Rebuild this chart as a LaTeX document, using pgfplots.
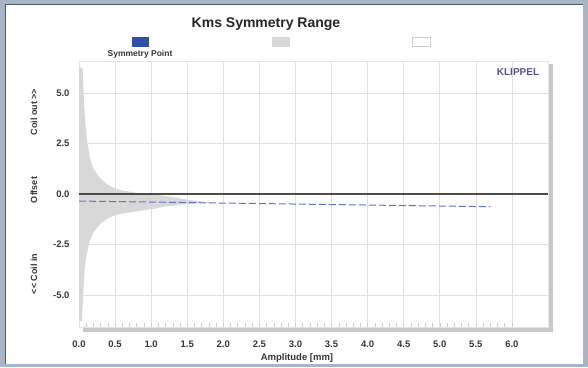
\documentclass[border=0pt]{standalone}
\usepackage{pgfplots}
\pgfplotsset{compat=1.18}
\usepackage{fontspec}
\setmainfont{Liberation Sans}
\definecolor{framebg}{RGB}{168,181,196}
\definecolor{framedark}{RGB}{80,88,98}
\definecolor{gridc}{RGB}{228,222,222}
\definecolor{fillg}{RGB}{216,216,216}
\definecolor{shadowg}{RGB}{200,200,200}
\definecolor{symblue}{RGB}{50,80,170}
\definecolor{dashblue}{RGB}{95,115,205}
\definecolor{klip}{RGB}{85,85,140}
\definecolor{labc}{RGB}{55,55,55}
\begin{document}
\begin{tikzpicture}[x=1pt,y=1pt]
% frame
\fill[framebg] (0,0) rectangle (588,367);
\fill[white] (6,3) rectangle (583,361.5);
\draw[framedark,line width=1.2pt] (5.4,3) -- (5.4,362.1) -- (583,362.1);
% shadow of plot area
\fill[shadowg] (548,35.5) rectangle (553,303);
\fill[shadowg] (83,35.5) rectangle (553,39.7);
\begin{axis}[
  at={(79pt,39.7pt)}, anchor=south west,
  scale only axis, width=469pt, height=266.6pt,
  xmin=0, xmax=6.5, ymin=-6.6, ymax=6.6,
  axis line style={draw=gray!20},
  xtick={0,0.5,1,1.5,2,2.5,3,3.5,4,4.5,5,5.5,6},
  xticklabels={0.0,0.5,1.0,1.5,2.0,2.5,3.0,3.5,4.0,4.5,5.0,5.5,6.0},
  ytick={-5,-2.5,0,2.5,5},
  yticklabels={-5.0,-2.5,0.0,2.5,5.0},
  minor x tick num=4,
  xtick pos=lower, ytick pos=left,
  tick align=inside,
  major tick length=4pt, minor tick length=4pt,
  xtick style={draw=gray!40, line width=0.5pt},
  ytick style={draw=none},
  grid=major, major grid style={draw=gridc, line width=0.6pt},
  minor grid style={draw=none},
  xticklabel style={font=\fontsize{9.5}{10}\selectfont\bfseries, text=labc, yshift=-10pt},
  yticklabel style={font=\fontsize{9.5}{10}\selectfont\bfseries, text=labc, xshift=-6pt},
  clip=true,
]
\addplot[fill=fillg, draw=none] coordinates {
(0,6.3) (0.05,6.2) (0.07,4.5) (0.09,3.4) (0.11,2.7) (0.15,1.8) (0.2,1.25) (0.3,0.75) (0.4,0.45) (0.5,0.28) (0.6,0.17) (0.8,0.06) (1.0,0.0) (1.3,-0.15) (1.5,-0.28) (1.8,-0.42)
(1.8,-0.44) (1.5,-0.5) (1.2,-0.62) (1.0,-0.75) (0.8,-0.86) (0.6,-0.97) (0.5,-1.05) (0.4,-1.2) (0.3,-1.45) (0.2,-1.9) (0.15,-2.3) (0.1,-3.1) (0.08,-3.7) (0.06,-4.8) (0.04,-6.3) (0,-6.3)
} -- cycle;
\addplot[draw=black!70, line width=2pt] coordinates {(0,0) (6.5,0)};
\addplot[draw=dashblue, line width=1pt, dash pattern=on 7pt off 3pt] coordinates {(0,-0.35) (5.7,-0.63)};
\end{axis}
% title and legend
\node[font=\fontsize{14}{16}\selectfont\bfseries, text=black!85] at (266,343) {Kms Symmetry Range};
\fill[symblue] (132,320) rectangle (149,330);
\fill[fillg] (272,320) rectangle (290,330);
\draw[gray!40, fill=white] (412.5,320.5) rectangle (430,329.5);
\node[font=\fontsize{8.5}{10}\selectfont\bfseries, text=labc] at (140,313) {Symmetry Point};
\node[font=\fontsize{10}{12}\selectfont\bfseries, text=klip] at (518,295) {KLIPPEL};
% axis labels
\node[font=\fontsize{9.5}{10}\selectfont\bfseries, text=labc] at (297,9) {Amplitude [mm]};
\node[font=\fontsize{9}{10}\selectfont\bfseries, text=labc, rotate=90] at (34,255) {Coil out {>}{>}};
\node[font=\fontsize{9}{10}\selectfont\bfseries, text=labc, rotate=90] at (34,177) {Offset};
\node[font=\fontsize{9}{10}\selectfont\bfseries, text=labc, rotate=90] at (34,93) {{<}{<} Coil in};
\end{tikzpicture}
\end{document}
